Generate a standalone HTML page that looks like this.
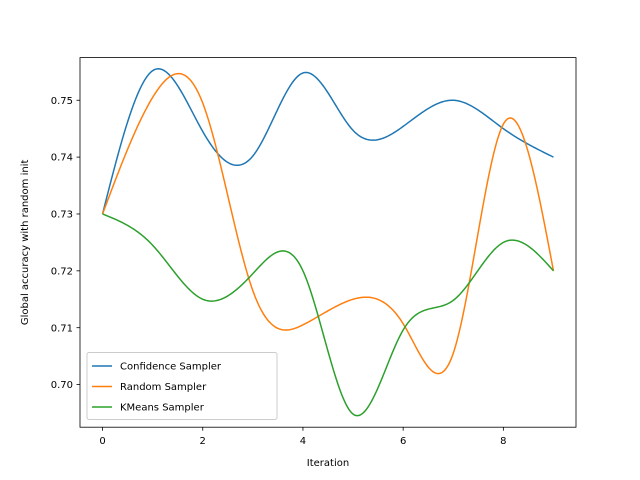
<!DOCTYPE html>
<html><head><meta charset="utf-8"><style>
body{margin:0;background:#fff;}
svg{display:block;font-family:"DejaVu Sans","Liberation Sans",sans-serif;}
</style></head><body>
<svg id="c" width="640" height="480" viewBox="0 0 640 480"></svg>
<script>
const iterations=[0,1,2,3,4,5,6,7,8,9];
const confidenceValues=[0.730,0.7552,0.7445,0.7402,0.7548,0.7447,0.7454,0.7500,0.7450,0.7400];
const randomValues=[0.730,0.7505,0.7495,0.7165,0.7105,0.7150,0.7107,0.7055,0.7458,0.720];
const kmeansValues=[0.730,0.7245,0.7150,0.7195,0.7200,0.6948,0.7096,0.7148,0.7250,0.720];
const seriesNames=["Confidence Sampler","Random Sampler","KMeans Sampler"];
const xTicks=[0,2,4,6,8];
const yTicks=[0.70,0.71,0.72,0.73,0.74,0.75];
const colors=["#1f77b4","#ff7f0e","#2ca02c"];
const L=80,R=576,T=57.6,B=427.2;
const xMin=-0.45,xMax=9.45,yMin=0.6925,yMax=0.7575;
const sx=v=>L+(v-xMin)/(xMax-xMin)*(R-L);
const sy=v=>B-(v-yMin)/(yMax-yMin)*(B-T);
const NS="http://www.w3.org/2000/svg";
const svg=document.getElementById('c');
function mk(t,a,p){const e=document.createElementNS(NS,t);for(const k in a)e.setAttribute(k,a[k]);(p||svg).appendChild(e);return e;}
function spline(xs,ys){
  const n=xs.length,h=[],al=[],l=[1],mu=[0],z=[0],c=new Array(n).fill(0),b=[],d=[];
  for(let i=0;i<n-1;i++)h.push(xs[i+1]-xs[i]);
  for(let i=1;i<n-1;i++)al[i]=3/h[i]*(ys[i+1]-ys[i])-3/h[i-1]*(ys[i]-ys[i-1]);
  for(let i=1;i<n-1;i++){l[i]=2*(xs[i+1]-xs[i-1])-h[i-1]*mu[i-1];mu[i]=h[i]/l[i];z[i]=(al[i]-h[i-1]*z[i-1])/l[i];}
  for(let j=n-2;j>=0;j--){c[j]=(j>0?z[j]:0)-mu[j]*c[j+1];b[j]=(ys[j+1]-ys[j])/h[j]-h[j]*(c[j+1]+2*c[j])/3;d[j]=(c[j+1]-c[j])/(3*h[j]);}
  return x=>{let i=0;for(let k=0;k<n-1;k++)if(x>=xs[k]&&x<=xs[k+1]){i=k;break;}const dx=x-xs[i];return ys[i]+b[i]*dx+c[i]*dx*dx+d[i]*dx*dx*dx;};
}
xTicks.forEach(v=>{
  const t=mk('line',{x1:sx(v),x2:sx(v),y1:B,y2:B+3.5,stroke:'#000','stroke-width':0.8});
  
  const tx=mk('text',{x:sx(v),y:B+17,'text-anchor':'middle','font-size':10});tx.textContent=v;
  
});
yTicks.forEach(v=>{
  const t=mk('line',{x1:L-3.5,x2:L,y1:sy(v),y2:sy(v),stroke:'#000','stroke-width':0.8});
  
  const tx=mk('text',{x:L-7,y:sy(v)+3.6,'text-anchor':'end','font-size':10});tx.textContent=v.toFixed(2);
  
});
[confidenceValues,randomValues,kmeansValues].forEach((vals,si)=>{
  const f=spline(iterations,vals);let d='';
  const x0=iterations[0],x1=iterations[iterations.length-1];
  for(let k=0;k<=300;k++){const x=x0+(x1-x0)*k/300;d+=(k?'L':'M')+sx(x).toFixed(2)+','+sy(f(x)).toFixed(2);}
  const p=mk('path',{d:d,fill:'none',stroke:colors[si],'stroke-width':1.5});
  
});
const fr=mk('rect',{x:L,y:T,width:R-L,height:B-T,fill:'none',stroke:'#000','stroke-width':0.8});

const xl=mk('text',{x:(L+R)/2,y:466,'text-anchor':'middle','font-size':10});xl.textContent='Iteration';

const yl=mk('text',{x:0,y:0,'text-anchor':'middle','font-size':10,transform:'translate(28,'+((T+B)/2)+') rotate(-90)'});yl.textContent='Global accuracy with random init';

const lg=mk('g',{});
mk('rect',{x:87,y:352.5,width:190,height:67,rx:2,fill:'#fff','fill-opacity':0.8,stroke:'#ccc','stroke-width':1},lg);
seriesNames.forEach((n,i)=>{
  const y=366+i*20.5;
  const ln=mk('line',{x1:92,x2:112,y1:y,y2:y,stroke:colors[i],'stroke-width':1.5},lg);
  
  const t=mk('text',{x:120,y:y+3.6,'font-size':10},lg);t.textContent=n;
  
});
</script>
</body></html>
